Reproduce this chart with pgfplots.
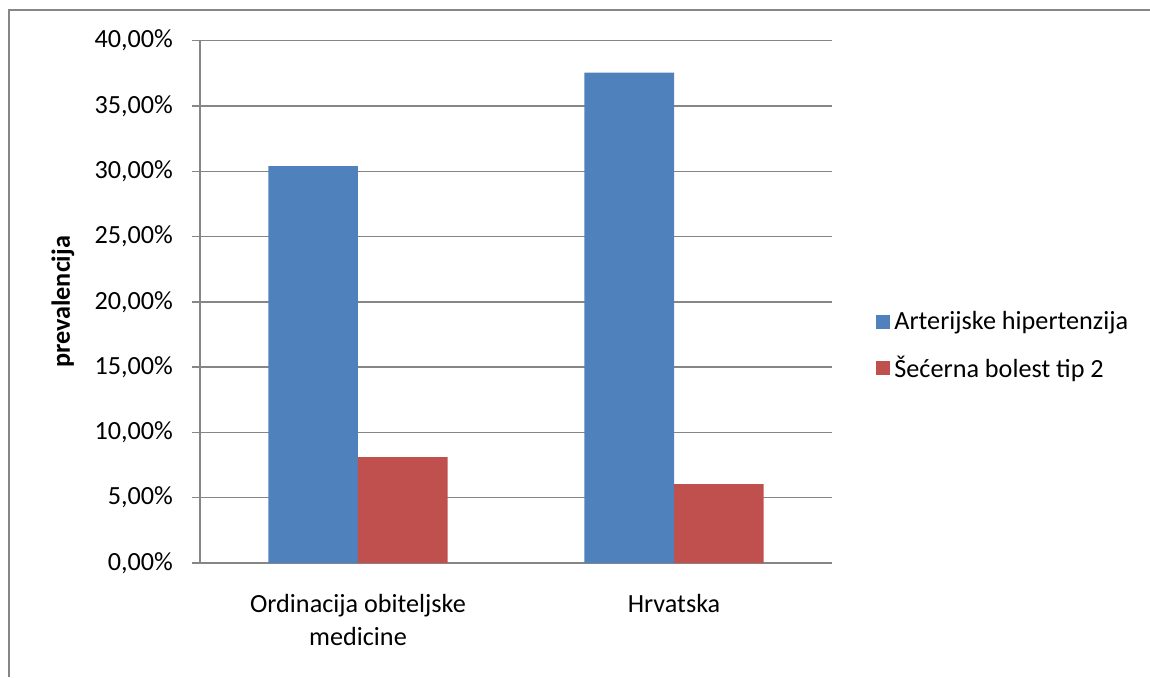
\documentclass[border=0pt]{standalone}
\usepackage{fontspec}
\setmainfont{Carlito}
\usepackage{pgfplots}
\pgfplotsset{compat=1.18}

\definecolor{barblue}{HTML}{4F81BD}
\definecolor{barred}{HTML}{C0504D}
\definecolor{gridgray}{HTML}{868686}

\newcommand{\chartfont}{\fontsize{13.1}{16.5}\selectfont}

\begin{document}
\begin{tikzpicture}
\begin{axis}[
    scale only axis,
    width=316pt,
    height=261.15pt,
    ybar=0pt,
    bar width=44.85pt,
    xmin=-0.5, xmax=1.5,
    ymin=0, ymax=40,
    xtick=data,
    xticklabels={{Ordinacija obiteljske\\medicine}, Hrvatska},
    ytick={0,5,...,40},
    /pgf/number format/assume math mode=true,
    yticklabel={\pgfmathprintnumber[fixed,fixed zerofill,precision=2,use comma]{\tick}\%},
    axis x line*=bottom,
    axis y line*=left,
    axis line style={gridgray, line width=0.7pt},
    ymajorgrids,
    grid style={gridgray, line width=0.7pt},
    x tick style={draw=none},
    y tick style={gridgray, line width=0.7pt},
    tick align=outside,
    major tick length=4pt,
    ytick pos=left,
    tick label style={font=\chartfont, text=black},
    xticklabel style={align=center, anchor=north, yshift=-8pt},
    yticklabel style={xshift=-6pt},
    every axis y label/.style={at={(axis description cs:-0.2168,0.5)}, anchor=center, rotate=90},
    ylabel={\chartfont\bfseries prevalencija},
    legend style={at={(axis description cs:1,0.4155)}, anchor=west, xshift=19pt,
        draw=none, fill=none, font=\chartfont, row sep=7.5pt,
        legend cell align=left},
    legend image code/.code={\fill[#1] (0pt,-3.5pt) rectangle (7pt,3.5pt);},
]
\addplot[fill=barblue, draw=none] coordinates {(0,30.4) (1,37.55)};
\addlegendentry{Arterijske hipertenzija}
\addplot[fill=barred, draw=none] coordinates {(0,8.1) (1,6.05)};
\addlegendentry{Šećerna bolest tip 2}
\end{axis}
\useasboundingbox (-100pt,-57pt) rectangle (475pt,281.5pt);
\draw[gridgray, line width=0.7pt] (-95.5pt,-57pt) -- (-95.5pt,276.5pt) -- (475pt,276.5pt);
\end{tikzpicture}
\end{document}
